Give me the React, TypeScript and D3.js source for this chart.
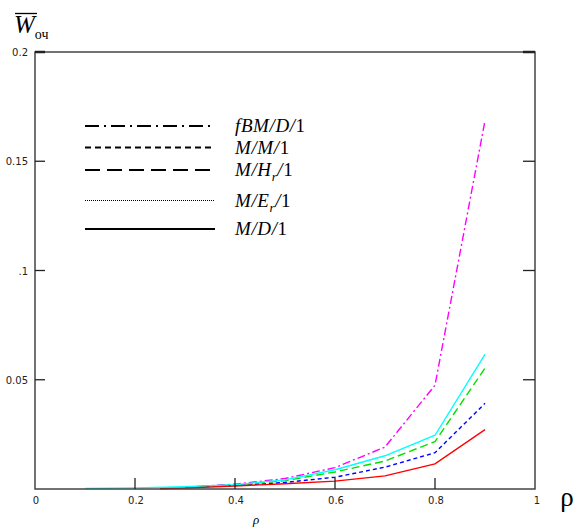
import React, { useEffect, useRef } from 'react';
import * as d3 from 'd3';

// ρ values (Mathcad range) and waiting time per model
const rho = [0.1, 0.2, 0.3, 0.4, 0.5, 0.6, 0.7, 0.8, 0.9];
const rhoMD = [0.25, 0.3, 0.4, 0.5, 0.6, 0.7, 0.8, 0.9];
const fbmValues = [null, null, 0.0008, 0.0022, 0.0048, 0.0098, 0.0192, 0.0475, 0.1686];
const mmValues = [null, null, 0.0008, 0.0016, 0.003, 0.0054, 0.01, 0.0166, 0.0392];
const mhValues = [null, null, 0.0009, 0.0018, 0.0038, 0.0078, 0.0128, 0.0217, 0.0553];
const meValues = [0.0002, 0.0005, 0.001, 0.002, 0.0042, 0.0088, 0.0152, 0.0246, 0.0616];
const mdValues = [0.0001, 0.0004, 0.0014, 0.0024, 0.0036, 0.006, 0.0115, 0.0272];

const xTicks = [0, 0.2, 0.4, 0.6, 0.8, 1];
const xTickLabels = ['0', '0.2', '0.4', '0.6', '0.8', '1'];
const yTicks = [0.05, 0.1, 0.15, 0.2];
const yTickLabels = ['0.05', '.1', '0.15', '0.2'];

type Seg = { t: string; it?: boolean; sub?: boolean };

const series: {
  xs: number[];
  ys: (number | null)[];
  color: string;
  dash: string;
  legendDash: string;
  label: Seg[];
}[] = [
  { xs: rho, ys: fbmValues, color: '#ff00ff', dash: '8,3,2,3', legendDash: '14,5,2,5',
    label: [{ t: 'fBM/D/', it: true }, { t: '1' }] },
  { xs: rho, ys: mmValues, color: '#0000ff', dash: '4,3', legendDash: '6,4',
    label: [{ t: 'M/M/', it: true }, { t: '1' }] },
  { xs: rho, ys: mhValues, color: '#00e000', dash: '8,4', legendDash: '15,7',
    label: [{ t: 'M/H', it: true }, { t: 'r', it: true, sub: true }, { t: '/', it: true }, { t: '1' }] },
  { xs: rho, ys: meValues, color: '#00ffff', dash: '', legendDash: '1,1',
    label: [{ t: 'M/E', it: true }, { t: 'r', it: true, sub: true }, { t: '/', it: true }, { t: '1' }] },
  { xs: rhoMD, ys: mdValues, color: '#ff0000', dash: '', legendDash: '',
    label: [{ t: 'M/D/', it: true }, { t: '1' }] },
];

const legendRowsY = [126, 147.5, 170, 200.5, 229];

const App: React.FC = () => {
  const ref = useRef<SVGSVGElement>(null);

  useEffect(() => {
    const svg = d3.select(ref.current);
    svg.html('');
    const width = 576;
    const height = 528;
    svg.attr('width', width).attr('height', height);

    const x = d3.scaleLinear().domain([0, 1]).range([35, 535]);
    const y = d3.scaleLinear().domain([0, 0.2]).range([489, 52]);

    const tickFont = '"DejaVu Sans", sans-serif';

    // curves
    series.forEach(s => {
      const pts = s.xs.map((r, i) => [r, s.ys[i]] as [number, number | null]);
      const line = d3.line<[number, number | null]>()
        .defined(d => d[1] !== null)
        .x(d => x(d[0]))
        .y(d => y(d[1] as number));
      svg.append('path')
        .attr('d', line(pts))
        .attr('fill', 'none')
        .attr('stroke', s.color)
        .attr('stroke-width', 1.4)
        .attr('stroke-dasharray', s.dash || null);
    });

    // frame
    svg.append('rect')
      .attr('x', x(0)).attr('y', y(0.2))
      .attr('width', x(1) - x(0)).attr('height', y(0) - y(0.2))
      .attr('fill', 'none').attr('stroke', '#444').attr('stroke-width', 1.5);

    // ticks (inside)
    xTicks.filter(t => t > 0 && t < 1).forEach(t => {
      svg.append('line')
        .attr('x1', x(t)).attr('x2', x(t))
        .attr('y1', y(0)).attr('y2', y(0) - 11)
        .attr('stroke', '#222').attr('stroke-width', 1.3);
    });
    yTicks.forEach(t => {
      svg.append('line')
        .attr('x1', x(0)).attr('x2', x(0) + 10)
        .attr('y1', y(t)).attr('y2', y(t))
        .attr('stroke', '#222').attr('stroke-width', t === 0.2 ? 2.5 : 1.3);
      svg.append('line')
        .attr('x1', x(1)).attr('x2', x(1) - 12)
        .attr('y1', y(t)).attr('y2', y(t))
        .attr('stroke', '#222').attr('stroke-width', t === 0.2 ? 2.5 : 1.3);
    });

    // tick labels
    svg.append('g').selectAll('text')
      .data(xTicks)
      .enter()
      .append('text')
      .attr('x', d => x(d) + (d === 1 ? 2 : 1))
      .attr('y', 504)
      .attr('text-anchor', 'middle')
      .style('font-family', tickFont)
      .style('font-size', '10px')
      .style('fill', '#222')
      .text((d, i) => xTickLabels[i]);

    svg.append('g').selectAll('text')
      .data(yTicks)
      .enter()
      .append('text')
      .attr('x', 28)
      .attr('y', d => y(d) + 4)
      .attr('text-anchor', 'end')
      .style('font-family', tickFont)
      .style('font-size', '10px')
      .style('fill', '#222')
      .text((d, i) => yTickLabels[i]);

    // axis titles
    svg.append('text')
      .attr('x', 567).attr('y', 506)
      .attr('text-anchor', 'middle')
      .style('font-family', '"Liberation Serif", serif')
      .style('font-size', '27px')
      .text('ρ');
    svg.append('text')
      .attr('x', 256).attr('y', 524)
      .attr('text-anchor', 'middle')
      .style('font-family', '"Liberation Serif", serif')
      .style('font-style', 'italic')
      .style('font-size', '13px')
      .text('ρ');

    const yTitle = svg.append('text')
      .attr('x', 14).attr('y', 33)
      .style('font-family', '"Liberation Serif", serif');
    yTitle.append('tspan')
      .style('font-style', 'italic')
      .style('font-size', '25px')
      .text('W');
    yTitle.append('tspan')
      .attr('dy', 6)
      .style('font-size', '14px')
      .text('оч');
    svg.append('line')
      .attr('x1', 15).attr('x2', 37)
      .attr('y1', 13.5).attr('y2', 13.5)
      .attr('stroke', '#000').attr('stroke-width', 1.3);

    // legend
    series.forEach((s, i) => {
      const ly = legendRowsY[i];
      svg.append('line')
        .attr('x1', 85).attr('x2', 215)
        .attr('y1', ly).attr('y2', ly)
        .attr('stroke', '#000')
        .attr('stroke-width', i === 3 ? 1.2 : 2)
        .attr('stroke-dasharray', s.legendDash || null);
      const txt = svg.append('text')
        .attr('x', 235).attr('y', ly + 6)
        .style('font-family', '"Liberation Serif", serif')
        .style('font-size', '19px')
        .style('letter-spacing', '0.6px');
      let shifted = false;
      s.label.forEach(seg => {
        const ts = txt.append('tspan')
          .style('font-style', seg.it ? 'italic' : 'normal')
          .text(seg.t);
        if (seg.sub) {
          ts.attr('dy', 5).style('font-size', '13px');
          shifted = true;
        } else if (shifted) {
          ts.attr('dy', -5);
          shifted = false;
        }
      });
    });
  }, []);

  return <svg ref={ref} style={{ position: 'absolute', left: 0, top: 0, background: '#fff' }}></svg>;
};

export default App;
